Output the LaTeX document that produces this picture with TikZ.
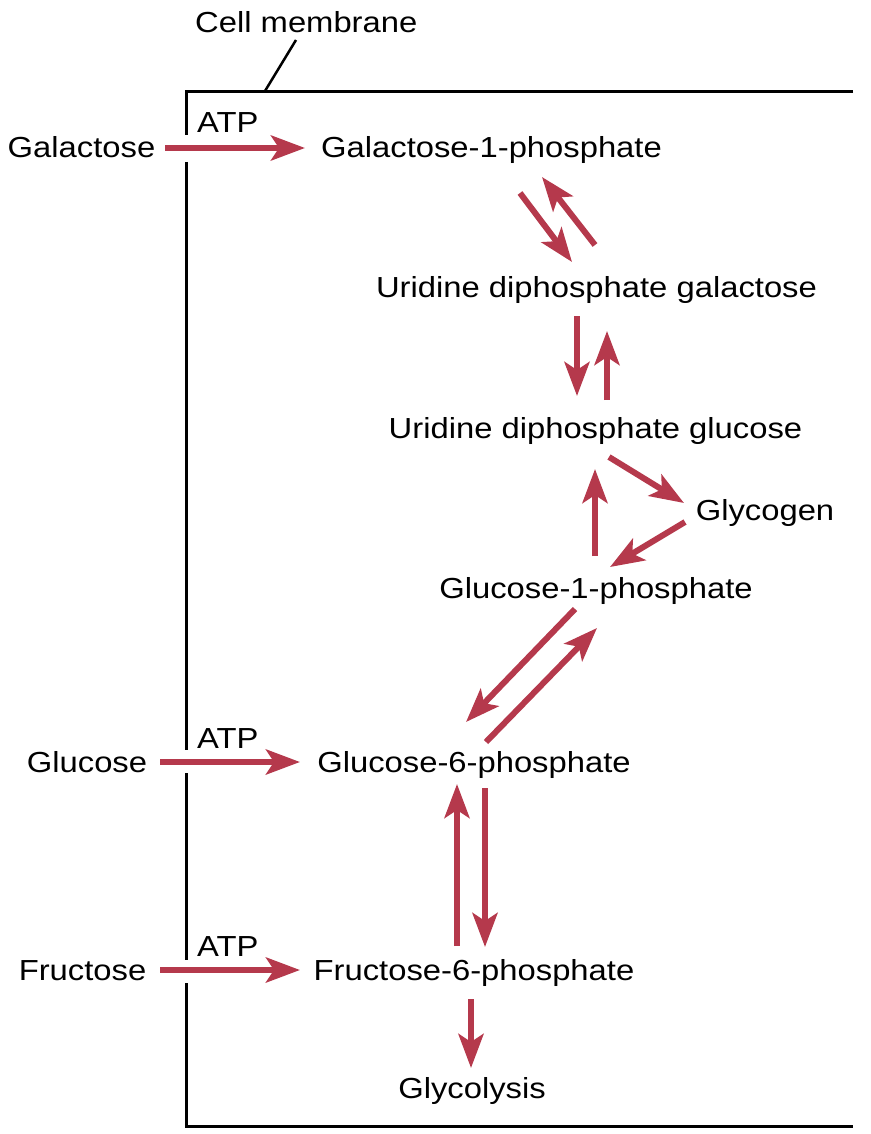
\documentclass[tikz,border=0pt]{standalone}
\usepackage{fontspec}
\usepackage{graphicx}
\setmainfont{Liberation Sans}
\usetikzlibrary{arrows.meta}
\definecolor{arrred}{HTML}{B5394C}
\newcommand\wtxt[1]{\scalebox{1.13}[1]{#1}}
\begin{document}
\begin{tikzpicture}[x=1pt,y=-1pt,
  lbl/.style={inner sep=0pt, anchor=base, font=\fontsize{29}{34}\selectfont},
  rarr/.style={draw=arrred, line width=6pt, -{Stealth[length=34pt,width=25pt,inset=8pt]}},
  memb/.style={draw=black, line width=3pt}]
\useasboundingbox (0,0) rectangle (870,1134);
% texts
\node[lbl, anchor=base west] (cm) at (195,33) {\wtxt{Cell membrane}};
\node[lbl] (gal) at (81.5,158) {\wtxt{Galactose}};
\node[lbl, anchor=base west] (atp1) at (197,133) {\wtxt{ATP}};
\node[lbl] (g1pgal) at (491.5,158) {\wtxt{Galactose-1-phosphate}};
\node[lbl] (udpgal) at (596.5,297) {\wtxt{Uridine diphosphate galactose}};
\node[lbl] (udpglc) at (595.5,438) {\wtxt{Uridine diphosphate glucose}};
\node[lbl] (glyc) at (765,520) {\wtxt{Glycogen}};
\node[lbl] (g1p) at (596,598) {\wtxt{Glucose-1-phosphate}};
\node[lbl] (glu) at (87,772) {\wtxt{Glucose}};
\node[lbl, anchor=base west] (atp2) at (197,748) {\wtxt{ATP}};
\node[lbl] (g6p) at (474,772) {\wtxt{Glucose-6-phosphate}};
\node[lbl] (fru) at (82.5,980) {\wtxt{Fructose}};
\node[lbl, anchor=base west] (atp3) at (197,956) {\wtxt{ATP}};
\node[lbl] (f6p) at (474,980) {\wtxt{Fructose-6-phosphate}};
\node[lbl] (glys) at (472,1098) {\wtxt{Glycolysis}};
% membrane
\coordinate (mtl) at (186,92);
\coordinate (mtr) at (853,92);
\coordinate (mbl) at (186,1126);
\coordinate (mbr) at (853,1126);
\coordinate (g1a) at (186,135);
\coordinate (g1b) at (186,162);
\coordinate (g2a) at (186,750);
\coordinate (g2b) at (186,773);
\coordinate (g3a) at (186,960);
\coordinate (g3b) at (186,983);
\coordinate (pt1) at (265,91);
\coordinate (pt2) at (296,40);
\draw[memb] (mtr) -- (mtl) -- (g1a);
\draw[memb] (g1b) -- (g2a);
\draw[memb] (g2b) -- (g3a);
\draw[memb] (g3b) -- (mbl) -- (mbr);
\draw[line width=2.5pt] (pt1) -- (pt2);
% arrow end points
\coordinate (a1s) at (165,148); \coordinate (a1e) at (305,148);
\coordinate (a2s) at (160,762); \coordinate (a2e) at (300,762);
\coordinate (a3s) at (160,970); \coordinate (a3e) at (300,970);
\coordinate (b1s) at (520,193); \coordinate (b1e) at (572,262);
\coordinate (b2s) at (595,245); \coordinate (b2e) at (542,177);
\coordinate (c1s) at (577,316); \coordinate (c1e) at (577,396);
\coordinate (c2s) at (607,400); \coordinate (c2e) at (607,331);
\coordinate (d1s) at (609,457); \coordinate (d1e) at (684,503);
\coordinate (d2s) at (685,522); \coordinate (d2e) at (610,567);
\coordinate (d3s) at (595,556); \coordinate (d3e) at (595,469);
\coordinate (e1s) at (575,609); \coordinate (e1e) at (466,722);
\coordinate (e2s) at (486,742); \coordinate (e2e) at (597,628);
\coordinate (f1s) at (457,946); \coordinate (f1e) at (457,784);
\coordinate (f2s) at (485,788); \coordinate (f2e) at (485,947);
\coordinate (h1s) at (471,999); \coordinate (h1e) at (471,1068);
\draw[rarr] (a1s) -- (a1e);
\draw[rarr] (a2s) -- (a2e);
\draw[rarr] (a3s) -- (a3e);
\draw[rarr] (b1s) -- (b1e);
\draw[rarr] (b2s) -- (b2e);
\draw[rarr] (c1s) -- (c1e);
\draw[rarr] (c2s) -- (c2e);
\draw[rarr] (d1s) -- (d1e);
\draw[rarr] (d2s) -- (d2e);
\draw[rarr] (d3s) -- (d3e);
\draw[rarr] (e1s) -- (e1e);
\draw[rarr] (e2s) -- (e2e);
\draw[rarr] (f1s) -- (f1e);
\draw[rarr] (f2s) -- (f2e);
\draw[rarr] (h1s) -- (h1e);
\end{tikzpicture}
\end{document}
